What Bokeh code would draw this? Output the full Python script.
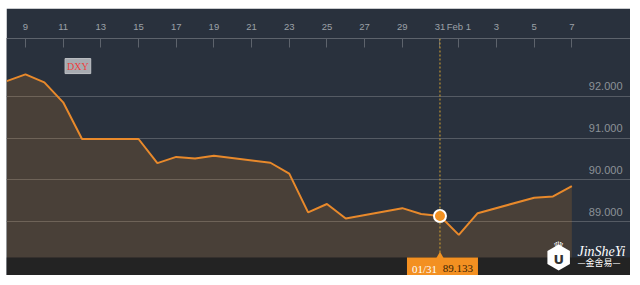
import pandas as pd
from bokeh.plotting import figure
from bokeh.models import FixedTicker, LinearAxis, Range1d, Span, BoxAnnotation, Label
from bokeh.core.properties import value
from bokeh.embed import file_html
from bokeh.resources import INLINE

# ---- data ----
dates = ["2018-01-08", "2018-01-09", "2018-01-10", "2018-01-11", "2018-01-12",
         "2018-01-15", "2018-01-16", "2018-01-17", "2018-01-18", "2018-01-19",
         "2018-01-22", "2018-01-23", "2018-01-24", "2018-01-25", "2018-01-26",
         "2018-01-29", "2018-01-30", "2018-01-31", "2018-02-01", "2018-02-02",
         "2018-02-05", "2018-02-06", "2018-02-07"]
dxy = [92.37, 92.53, 92.34, 91.86, 90.98,
       90.98, 90.40, 90.55, 90.51, 90.58,
       90.41, 90.15, 89.22, 89.42, 89.07,
       89.32, 89.18, 89.133, 88.68, 89.20,
       89.57, 89.60, 89.85]
x_tick_days = [9, 11, 13, 15, 17, 19, 21, 23, 25, 27, 29, 31, 32, 34, 36, 38]
x_tick_labels = ["9", "11", "13", "15", "17", "19", "21", "23", "25", "27", "29",
                 "31", "Feb 1", "3", "5", "7"]
y_ticks = [89, 90, 91, 92]
y_tick_labels = ["89.000", "90.000", "91.000", "92.000"]
highlight_date = "2018-01-31"
highlight_label = "01/31"
series_name = "DXY"

# ---- derived ----
base = pd.Timestamp("2018-01-01")
xs = [(pd.Timestamp(d) - base).days + 1 for d in dates]
hi_i = dates.index(highlight_date)
hx, hy = xs[hi_i], dxy[hi_i]

PANEL = "#29313d"
ORANGE = "#f39021"
PX_DAY = 18.84
PX_UNIT = 41.67

x0 = 8 - 0.16 / PX_DAY
y0 = 89 - 54 / PX_UNIT
band_top = 89 - 36 / PX_UNIT

p = figure(width=624, height=267, output_backend="svg", toolbar_location=None,
           x_range=Range1d(x0, x0 + 624 / PX_DAY),
           y_range=Range1d(y0, y0 + 237 / PX_UNIT),
           x_axis_location=None, y_axis_location=None,
           min_border_top=30, min_border_bottom=0, min_border_left=0, min_border_right=0)
p.margin = (8, 10, 10, 6)
p.background_fill_color = PANEL
p.border_fill_color = PANEL
p.outline_line_color = None

xa = LinearAxis(ticker=FixedTicker(ticks=x_tick_days),
                major_label_overrides={t: l for t, l in zip(x_tick_days, x_tick_labels)})
xa.axis_line_color = "#5d636c"
xa.major_tick_line_color = "#5d636c"
xa.major_tick_in = 9
xa.major_tick_out = 0
xa.minor_tick_line_color = None
xa.major_label_standoff = 7
xa.major_label_text_color = "#9ca1a8"
xa.major_label_text_font = "Liberation Sans"
xa.major_label_text_font_size = "9.5px"
p.add_layout(xa, "above")

p.xgrid.visible = False
p.ygrid.ticker = FixedTicker(ticks=y_ticks)
p.ygrid.grid_line_color = "#555b64"
p.ygrid.grid_line_width = 1

# area + line
p.varea(x=xs, y1=band_top, y2=dxy, fill_color=ORANGE, fill_alpha=0.16)
p.line(xs, dxy, line_color="#e8892b", line_width=2)

# y labels on the right, above gridlines
p.text(x=[p.x_range.end] * len(y_ticks), y=y_ticks, text=y_tick_labels,
       x_offset=-8, y_offset=-6, text_align="right", text_baseline="bottom",
       text_color="#8c9198", text_font=value("Liberation Sans"), text_font_size="11px")

# bottom dark band
p.add_layout(BoxAnnotation(top=band_top, fill_color="#232323", fill_alpha=1,
                           line_color=None, level="underlay"))

# crosshair
p.add_layout(Span(location=hx, dimension="height", line_color="#d6a232",
                  line_dash="2 2", line_width=1))
p.scatter([hx], [hy], size=12, fill_color=ORANGE, line_color="white", line_width=2)

# tooltip box
p.add_layout(BoxAnnotation(left=hx - 33 / PX_DAY, right=hx + 38 / PX_DAY, top=band_top,
                           fill_color=ORANGE, fill_alpha=1, line_color=None,
                           level="annotation"))
p.scatter([hx], [band_top], marker="triangle", size=10, fill_color=ORANGE, line_color=None)
p.add_layout(Label(x=hx, y=band_top, text=highlight_label, x_offset=-15.5, y_offset=-11,
                   text_align="center", text_baseline="middle", text_color="white",
                   text_font="Liberation Serif", text_font_size="11px"))
p.add_layout(Label(x=hx, y=band_top, text=f"{hy:.3f}", x_offset=18, y_offset=-11,
                   text_align="center", text_baseline="middle", text_color="#3a2305",
                   text_font="Liberation Serif", text_font_size="11px"))

# series tag
p.add_layout(Label(x=11.1, y=92.55, text=series_name, text_color="#ee3e3e",
                   text_font="Liberation Serif", text_font_size="10px",
                   background_fill_color="#a7abb1", border_line_color="#bfc2c6",
                   padding=2))

# watermark
wx = 37.3
p.add_layout(Label(x=wx, y=band_top, text="♛", y_offset=4, text_align="center",
                   text_color="white", text_font="DejaVu Sans", text_font_size="13px"))
p.scatter([wx], [band_top], marker="hex", angle=0.5236, size=26, fill_color="white",
          line_color=None)
p.add_layout(Label(x=wx, y=band_top, text="U", y_offset=-2, text_align="center",
                   text_baseline="middle", text_color="#333", text_font="DejaVu Sans",
                   text_font_style="bold", text_font_size="13px"))
p.add_layout(Label(x=38.3, y=band_top, text="JinSheYi", y_offset=-1, text_align="left",
                   text_color="white", text_font="Liberation Serif",
                   text_font_style="italic", text_font_size="14px"))
p.add_layout(Label(x=38.3, y=band_top, text="—金舍易—", y_offset=-11, text_align="left",
                   text_color="white", text_font="Noto Sans CJK SC", text_font_size="9px"))

html = file_html(p, INLINE)
html = html.replace("<body>", '<body style="margin:0;background:#fde6c9;">', 1)
open("out.html", "w").write(html)
